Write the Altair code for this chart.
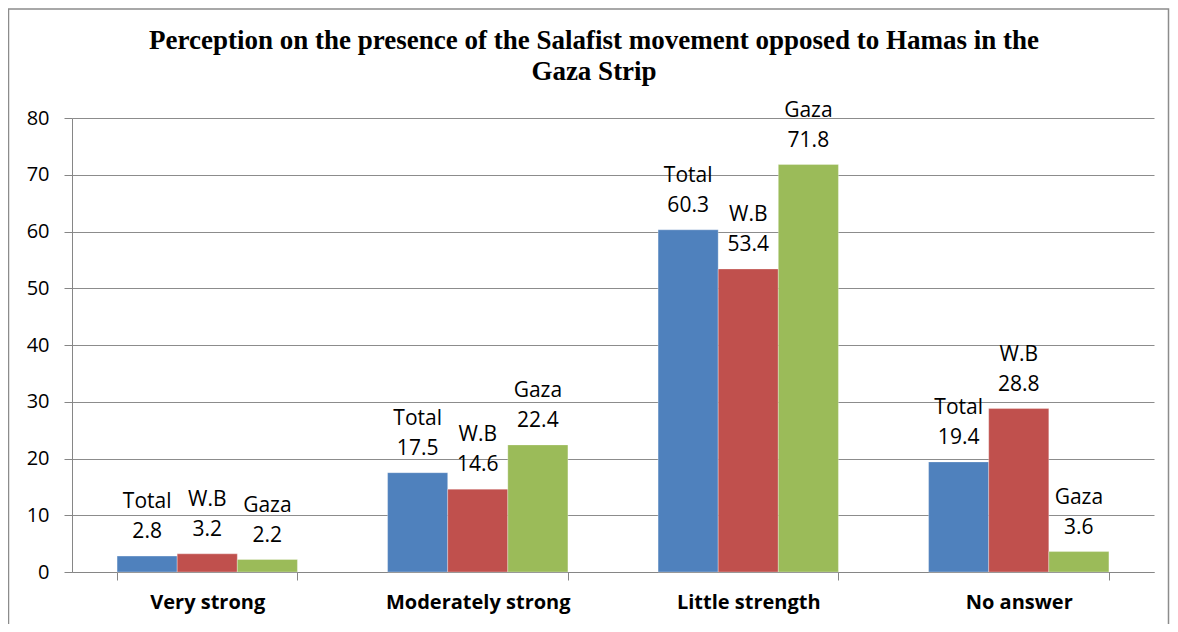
import altair as alt
import pandas as pd

title_lines = ["Perception on the presence of the Salafist movement opposed to Hamas in the",
               "Gaza Strip"]
categories = ["Very strong", "Moderately strong", "Little strength", "No answer"]
series = ["Total", "W.B", "Gaza"]
total = [2.8, 17.5, 60.3, 19.4]
wb = [3.2, 14.6, 53.4, 28.8]
gaza = [2.2, 22.4, 71.8, 3.6]
colors = ["#4F81BD", "#C0504D", "#9BBB59"]
y_ticks = [0, 10, 20, 30, 40, 50, 60, 70, 80]

rows = []
for s, vals in zip(series, [total, wb, gaza]):
    for c, v in zip(categories, vals):
        rows.append({"category": c, "series": s, "value": v, "vtext": f"{v:.1f}"})
df = pd.DataFrame(rows)

W, H = 1082, 454
FONT = "Open Sans"

x = alt.X("category:N", sort=categories, title=None,
          scale=alt.Scale(paddingInner=1/3, paddingOuter=1/6),
          axis=alt.Axis(labelAngle=0, labelFont=FONT, labelFontWeight="bold",
                        labelFontSize=20, labelColor="#000000", labelPadding=12,
                        labelLimit=400,
                        tickBand="extent", tickSize=8, tickColor="#868686",
                        domainColor="#868686", grid=False))
y = alt.Y("value:Q", title=None,
          scale=alt.Scale(domain=[0, 80], nice=False),
          axis=alt.Axis(values=y_ticks, labelFont=FONT, labelFontSize=20,
                        labelColor="#000000", labelPadding=15, tickSize=8,
                        tickColor="#868686", domainColor="#868686",
                        gridColor="#8c8c8c", gridWidth=1))
xo = alt.XOffset("series:N", sort=series, scale=alt.Scale(paddingInner=0, paddingOuter=0))
color = alt.Color("series:N", sort=series, legend=None,
                  scale=alt.Scale(domain=series, range=colors))

bars = alt.Chart(df).mark_bar(stroke="#ffffff", strokeWidth=0.6, strokeOpacity=0.5).encode(
    x=x, y=y, xOffset=xo, color=color)

val_labels = alt.Chart(df).mark_text(font=FONT, fontSize=21, baseline="alphabetic",
                                     dy=-18, color="#000000").encode(
    x=alt.X("category:N", sort=categories), y="value:Q", xOffset=xo, text="vtext:N")
name_labels = alt.Chart(df).mark_text(font=FONT, fontSize=21, baseline="alphabetic",
                                      dy=-48, color="#000000").encode(
    x=alt.X("category:N", sort=categories), y="value:Q", xOffset=xo, text="series:N")

frame = alt.Chart(alt.Data(values=[{}])).mark_rect(
    fill=None, stroke="#8c8c8c", strokeWidth=1.5, clip=False).encode(
    x=alt.value(-63.5), x2=alt.value(W + 14.5),
    y=alt.value(-109), y2=alt.value(H + 70))

def title_line(text, ypos):
    return alt.Chart(alt.Data(values=[{"t": text}])).mark_text(
        font="Liberation Serif", fontSize=27, fontWeight="bold", color="#000000",
        baseline="alphabetic", align="center", clip=False).encode(
        x=alt.value(522), y=alt.value(ypos), text="t:N")

chart = alt.layer(frame, bars, val_labels, name_labels,
                  title_line(title_lines[0], -69),
                  title_line(title_lines[1], -38)).properties(
    width=W, height=H,
    autosize=alt.AutoSizeParams(type="none"),
    padding={"left": 64, "top": 110, "right": 16, "bottom": 52},
).configure_view(stroke=None)

chart.save("out.html", embed_options={"renderer": "svg", "actions": False})
